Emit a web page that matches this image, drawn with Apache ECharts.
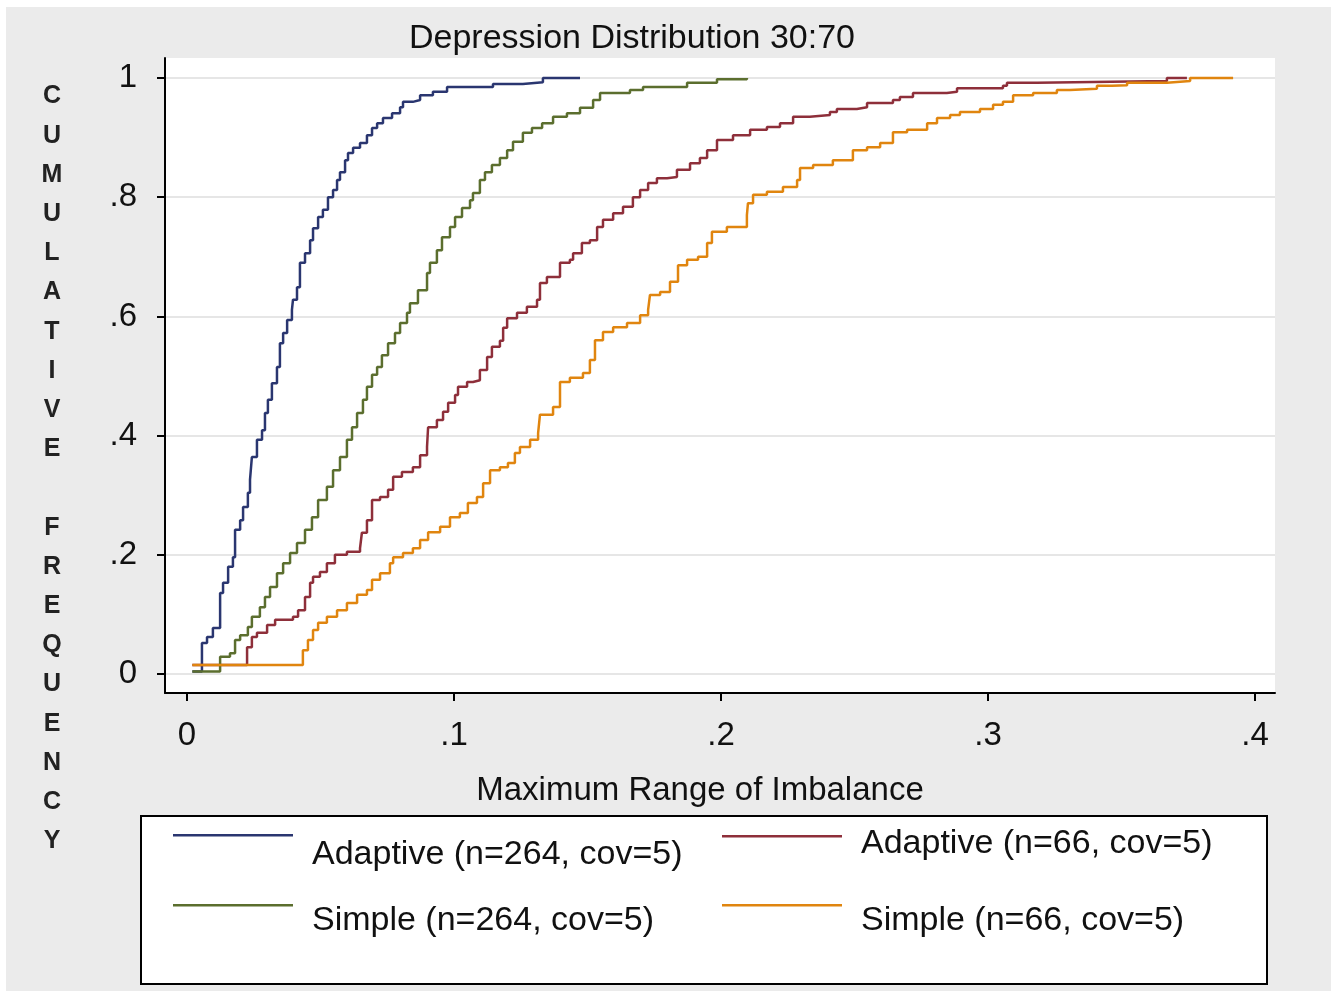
<!DOCTYPE html>
<html><head><meta charset="utf-8">
<script src="https://cdn.jsdelivr.net/npm/echarts@6/dist/echarts.min.js"></script>
<style>html,body{margin:0;padding:0;background:#fff}#c{width:1337px;height:991px}</style>
</head><body><div id="c"></div>
<script>
const chartTitle = 'Depression Distribution 30:70';
const xTitle = 'Maximum Range of Imbalance';
const yTitleLetters = ['C','U','M','U','L','A','T','I','V','E','','F','R','E','Q','U','E','N','C','Y'];
const xTickValues = [0, 0.1, 0.2, 0.3, 0.4];
const xTickLabels = ['0', '.1', '.2', '.3', '.4'];
const yTickValues = [0, 0.2, 0.4, 0.6, 0.8, 1];
const yTickLabels = ['0', '.2', '.4', '.6', '.8', '1'];
const seriesNames = ['Adaptive (n=264, cov=5)', 'Adaptive (n=66, cov=5)', 'Simple (n=264, cov=5)', 'Simple (n=66, cov=5)'];

const adaptive264 = [
[0.002,0.004],[0.0056,0.052],[0.0075,0.062],[0.0097,0.077],[0.0124,0.136],[0.0135,0.153],[0.0154,0.180],[0.0172,0.196],[0.0180,0.242],[0.0199,0.258],[0.0210,0.280],[0.0228,0.304],[0.0236,0.326],[0.0243,0.364],[0.0262,0.393],[0.0281,0.409],[0.0292,0.438],[0.0303,0.460],[0.0318,0.488],[0.0337,0.515],[0.0348,0.555],[0.0360,0.572],[0.0375,0.594],[0.0393,0.611],[0.0397,0.628],[0.0412,0.649],[0.0423,0.690],[0.0442,0.706],[0.0461,0.728],[0.0472,0.748],[0.0491,0.767],[0.0509,0.779],[0.0528,0.800],[0.0547,0.812],[0.0562,0.829],[0.0573,0.842],[0.0592,0.862],[0.0603,0.874],[0.0622,0.883],[0.0648,0.891],[0.0674,0.904],[0.0693,0.916],[0.0712,0.924],[0.0734,0.933],[0.0768,0.941],[0.0798,0.951],[0.0809,0.960],[0.0846,0.963],[0.0873,0.971],[0.0921,0.977],[0.0974,0.985],[0.1146,0.990],[0.1258,0.993],[0.1333,1.0],[0.1472,1.0]
];
const simple264 = [
[0.002,0.004],[0.0124,0.029],[0.0161,0.035],[0.0180,0.057],[0.0199,0.065],[0.0228,0.079],[0.0243,0.096],[0.0273,0.112],[0.0292,0.129],[0.0311,0.146],[0.0337,0.169],[0.0360,0.186],[0.0386,0.203],[0.0412,0.220],[0.0442,0.242],[0.0468,0.263],[0.0491,0.292],[0.0524,0.314],[0.0547,0.342],[0.0573,0.364],[0.0599,0.393],[0.0618,0.414],[0.0637,0.438],[0.0659,0.460],[0.0674,0.482],[0.0693,0.502],[0.0712,0.515],[0.0730,0.535],[0.0753,0.555],[0.0779,0.572],[0.0798,0.589],[0.0824,0.606],[0.0835,0.622],[0.0865,0.644],[0.0899,0.673],[0.0910,0.690],[0.0936,0.711],[0.0955,0.733],[0.0985,0.750],[0.1004,0.767],[0.1030,0.782],[0.1060,0.795],[0.1071,0.807],[0.1097,0.829],[0.1116,0.842],[0.1142,0.854],[0.1172,0.866],[0.1199,0.879],[0.1221,0.893],[0.1258,0.908],[0.1292,0.916],[0.1330,0.924],[0.1371,0.935],[0.1423,0.941],[0.1472,0.950],[0.1521,0.963],[0.1547,0.975],[0.1659,0.980],[0.1708,0.985],[0.1873,0.992],[0.1985,0.998],[0.2097,1.0]
];
const adaptive66 = [
[0.002,0.015],[0.0225,0.045],[0.0243,0.062],[0.0262,0.069],[0.0300,0.082],[0.0330,0.091],[0.0397,0.096],[0.0416,0.107],[0.0442,0.129],[0.0461,0.153],[0.0472,0.163],[0.0498,0.171],[0.0524,0.186],[0.0554,0.200],[0.0599,0.205],[0.0648,0.211],[0.0655,0.237],[0.0674,0.258],[0.0693,0.292],[0.0723,0.297],[0.0753,0.309],[0.0772,0.331],[0.0805,0.339],[0.0846,0.347],[0.0873,0.367],[0.0899,0.381],[0.0903,0.414],[0.0936,0.426],[0.0959,0.440],[0.0978,0.455],[0.1004,0.468],[0.1015,0.482],[0.1049,0.490],[0.1071,0.493],[0.1097,0.510],[0.1124,0.532],[0.1142,0.549],[0.1172,0.559],[0.1184,0.581],[0.1199,0.597],[0.1236,0.606],[0.1273,0.616],[0.1311,0.628],[0.1322,0.656],[0.1348,0.666],[0.1397,0.690],[0.1434,0.695],[0.1446,0.706],[0.1479,0.723],[0.1509,0.728],[0.1536,0.750],[0.1558,0.762],[0.1596,0.773],[0.1633,0.784],[0.1670,0.800],[0.1697,0.812],[0.1727,0.824],[0.1760,0.832],[0.1798,0.834],[0.1835,0.846],[0.1884,0.857],[0.1921,0.866],[0.1948,0.879],[0.1985,0.896],[0.2045,0.904],[0.2109,0.913],[0.2172,0.918],[0.2221,0.924],[0.2270,0.935],[0.2333,0.938],[0.2408,0.943],[0.2434,0.948],[0.2509,0.951],[0.2547,0.958],[0.2644,0.963],[0.2670,0.968],[0.2719,0.975],[0.2846,0.977],[0.2884,0.983],[0.3056,0.987],[0.3071,0.992],[0.3184,0.995],[0.3670,1.0],[0.3745,1.0]
];
const simple66 = [
[0.002,0.015],[0.0434,0.040],[0.0453,0.057],[0.0472,0.074],[0.0491,0.086],[0.0524,0.096],[0.0562,0.107],[0.0599,0.119],[0.0637,0.133],[0.0674,0.141],[0.0693,0.158],[0.0723,0.169],[0.0760,0.186],[0.0772,0.196],[0.0809,0.203],[0.0846,0.211],[0.0873,0.225],[0.0903,0.238],[0.0948,0.247],[0.0985,0.263],[0.1022,0.270],[0.1052,0.287],[0.1086,0.297],[0.1109,0.320],[0.1135,0.342],[0.1172,0.347],[0.1202,0.354],[0.1228,0.371],[0.1247,0.381],[0.1285,0.393],[0.1315,0.404],[0.1322,0.435],[0.1371,0.448],[0.1397,0.490],[0.1434,0.497],[0.1483,0.505],[0.1509,0.527],[0.1528,0.560],[0.1558,0.574],[0.1596,0.582],[0.1648,0.589],[0.1697,0.602],[0.1727,0.611],[0.1734,0.636],[0.1772,0.641],[0.1809,0.658],[0.1839,0.686],[0.1873,0.695],[0.1914,0.700],[0.1948,0.723],[0.1966,0.742],[0.2022,0.750],[0.2097,0.770],[0.2101,0.790],[0.2120,0.804],[0.2172,0.809],[0.2232,0.817],[0.2285,0.829],[0.2296,0.849],[0.2345,0.854],[0.2419,0.862],[0.2494,0.879],[0.2547,0.884],[0.2596,0.891],[0.2644,0.909],[0.2697,0.913],[0.2772,0.924],[0.2809,0.933],[0.2858,0.938],[0.2895,0.943],[0.2970,0.948],[0.3019,0.955],[0.3056,0.960],[0.3094,0.971],[0.3169,0.975],[0.3258,0.980],[0.3307,0.982],[0.3408,0.987],[0.3464,0.988],[0.3521,0.992],[0.3670,0.995],[0.3757,1.0],[0.3918,1.0]
];
const seriesData = [adaptive264, adaptive66, simple264, simple66];
const seriesColors = ['#2a3670', '#8e2f3a', '#5b6e2e', '#e0850f'];

const FONT = "'Liberation Sans', Arial, sans-serif";
function pick(vals, labels, v) {
  for (let i = 0; i < vals.length; i++) if (Math.abs(vals[i] - v) < 1e-9) return labels[i];
  return '';
}
function legendIcon(h) {
  return 'path://M0,0H120V2.5H0Z M133.9,' + (h - 0.1) + 'H134V' + h + 'H133.9Z';
}
const legendPos = [
  {left: 173, top: 834, h: 42},
  {left: 722, top: 827, h: 18},
  {left: 173, top: 904, h: 34},
  {left: 722, top: 904, h: 34}
];

const chart = echarts.init(document.getElementById('c'), null, {renderer: 'canvas'});
chart.setOption({
  animation: false,
  backgroundColor: '#ffffff',
  title: [
    {text: chartTitle, left: 632, top: 22, textAlign: 'center', padding: 0,
     textStyle: {fontFamily: FONT, fontSize: 34, fontWeight: 'normal', color: '#111'}},
    {text: yTitleLetters.join('\n'), left: 52, top: 77, textAlign: 'center', padding: 0,
     textStyle: {fontFamily: FONT, fontSize: 25, fontWeight: 'bold', color: '#222', lineHeight: 39.2}}
  ],
  graphic: [
    {type: 'rect', z: -10, silent: true, shape: {x: 6, y: 7, width: 1325, height: 984}, style: {fill: '#EBEBEB'}},
    {type: 'rect', z: 1, silent: true, shape: {x: 141, y: 816, width: 1126, height: 168}, style: {fill: '#ffffff', stroke: '#000', lineWidth: 2}}
  ],
  grid: {left: 165, top: 58, right: 62, bottom: 298, show: true, backgroundColor: '#ffffff', borderWidth: 0},
  xAxis: {
    type: 'value', min: -0.00824, max: 0.40749,
    name: xTitle, nameLocation: 'middle', nameGap: 81,
    nameTextStyle: {fontFamily: FONT, fontSize: 33, color: '#111', padding: [0, 40, 0, 0]},
    axisLine: {show: true, onZero: false, lineStyle: {color: '#000', width: 2}},
    axisTick: {show: true, length: 8, lineStyle: {color: '#000', width: 2}, customValues: xTickValues},
    axisLabel: {customValues: xTickValues, formatter: v => pick(xTickValues, xTickLabels, v),
      fontFamily: FONT, fontSize: 33, color: '#111', margin: 26},
    splitLine: {show: false}
  },
  yAxis: {
    type: 'value', min: -0.0319, max: 1.0336,
    axisLine: {show: true, onZero: false, lineStyle: {color: '#000', width: 2}},
    axisTick: {show: true, length: 8, lineStyle: {color: '#000', width: 2}, customValues: yTickValues},
    axisLabel: {customValues: yTickValues, formatter: v => pick(yTickValues, yTickLabels, v),
      fontFamily: FONT, fontSize: 33, color: '#111', margin: 28},
    splitLine: {show: true, lineStyle: {color: '#E6E6E6', width: 2}}
  },
  legend: seriesNames.map((n, i) => ({
    data: [n], left: legendPos[i].left, top: legendPos[i].top, padding: 0, orient: 'horizontal',
    itemWidth: 134, itemHeight: legendPos[i].h, icon: legendIcon(legendPos[i].h),
    itemStyle: {borderWidth: 0},
    textStyle: {fontFamily: FONT, fontSize: 34, color: '#111'}
  })),
  series: seriesNames.map((n, i) => ({
    name: n, type: 'line', step: 'end', showSymbol: false, symbol: 'none',
    data: seriesData[i], color: seriesColors[i],
    itemStyle: {color: seriesColors[i]},
    lineStyle: {color: seriesColors[i], width: 2.5}
  }))
});
</script></body></html>
